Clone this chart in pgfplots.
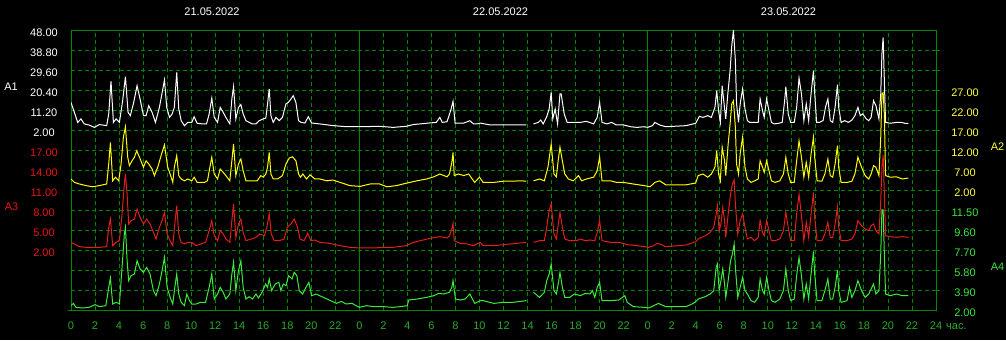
\documentclass[border=0pt]{standalone}
\usepackage{pgfplots}
\pgfplotsset{compat=1.18}
\usepackage{pgfplotstable}
\usepackage{fontspec}
\setmainfont{Liberation Sans}
\definecolor{gridc}{RGB}{0,135,0}
\definecolor{tickc}{RGB}{40,170,40}
\definecolor{serW}{RGB}{255,255,255}
\definecolor{serY}{RGB}{255,255,0}
\definecolor{serR}{RGB}{225,30,30}
\definecolor{serG}{RGB}{60,235,60}
\definecolor{labY}{RGB}{255,255,60}
\definecolor{labR}{RGB}{230,20,20}
\definecolor{labG}{RGB}{60,230,60}

% A1 (white, left scale 2..48)
\pgfplotstableread{
h v
0 14.7
0.28 10.1
0.56 5.5
0.83 7.1
1.1 4.8
1.5 4.3
1.94 3.2
2.36 4.5
2.97 4.0
3.14 9.4
3.33 24.4
3.53 5.5
3.75 7.1
4.03 5.5
4.3 15.5
4.53 26.5
4.75 10.1
4.94 8.6
5.22 14.7
5.5 22.4
5.75 16.3
6.03 8.6
6.25 8.6
6.47 13.2
6.75 10.1
7.03 5.5
7.36 12.4
7.78 25.0
7.97 12.4
8.2 7.8
8.42 9.4
8.6 12.4
8.8 28.5
8.97 11.7
9.17 6.3
9.44 4.0
9.72 5.5
10.05 5.5
10.25 8.1
10.5 5.1
10.94 4.8
11.28 4.8
11.5 9.4
11.72 16.7
11.92 7.8
12.2 5.5
12.42 12.4
12.67 10.1
12.89 7.8
13.22 4.8
13.39 16.3
13.53 21.9
13.72 7.1
13.94 12.4
14.14 13.7
14.33 9.4
14.56 6.3
14.83 5.5
15.1 4.8
15.4 4.8
15.67 6.3
16.0 7.1
16.22 7.5
16.36 14.0
16.5 20.9
16.64 8.6
16.83 5.5
17.06 7.8
17.33 6.3
17.6 7.8
17.89 14.0
18.08 14.7
18.25 15.8
18.5 17.8
18.72 14.7
18.94 6.3
19.14 5.5
19.47 5.2
19.75 8.1
20.03 5.2
20.7 4.8
21.83 4.0
22.94 3.5
24.06 3.5
25.7 3.7
26.8 3.2
27.9 3.7
28.5 4.5
29.6 5.1
30.4 5.5
30.7 7.8
30.9 5.5
31.3 5.8
31.6 10.9
31.8 15.2
31.97 5.1
32.7 5.2
33.2 6.3
33.5 4.8
33.8 4.8
34.06 5.2
34.9 4.3
36 4.3
37.1 4.3
37.9 4.3
38.2 nan
38.5 4.8
38.9 5.5
39.1 6.6
39.3 4.8
39.6 8.1
39.8 11.7
39.97 19.3
40.1 7.1
40.3 11.7
40.5 4.8
40.7 18.6
40.8 18.6
41.05 9.4
41.3 5.5
41.8 5.5
42.4 5.5
42.9 6.0
43.5 4.8
43.8 7.8
44.0 14.7
44.2 5.5
44.6 4.8
45.0 5.5
45.4 4.3
46.0 4.3
46.6 3.5
47.1 3.2
47.7 3.5
48.0 3.2
48.4 4.0
48.6 5.5
49.0 4.3
49.5 3.5
51.2 4.0
52.0 5.1
52.3 8.3
52.6 7.8
53.0 8.6
53.3 7.8
53.6 12.4
53.75 20.1
53.9 10.9
54.05 5.5
54.2 22.4
54.36 14.0
54.5 7.1
54.67 18.6
54.86 29.3
55.0 40.8
55.14 48.0
55.3 33.9
55.4 14.0
55.56 5.5
55.7 14.0
55.9 20.9
56.1 11.7
56.3 6.3
56.5 5.5
56.8 5.5
57.2 5.5
57.36 16.3
57.56 10.9
57.7 7.8
57.9 16.3
58.1 10.9
58.3 5.5
58.55 4.8
58.9 5.1
59.2 5.5
59.4 15.5
59.5 21.9
59.7 9.4
59.9 5.5
60.2 5.5
60.4 12.4
60.6 25.9
60.8 18.6
61.0 6.3
61.2 14.0
61.4 6.3
61.6 18.6
61.8 29.3
61.9 19.3
62.06 5.5
62.3 5.5
62.6 6.3
62.8 12.4
63.0 16.3
63.2 6.3
63.4 5.5
63.6 12.4
63.8 22.9
63.9 12.4
64.1 5.5
64.4 6.3
64.7 5.5
65.0 6.6
65.25 8.6
65.5 12.4
65.7 8.6
65.9 9.4
66.2 7.1
66.4 6.3
66.6 7.8
66.8 15.5
67.0 13.2
67.25 7.1
67.4 18.6
67.5 37.0
67.6 44.6
67.7 24.7
67.8 5.5
68.2 5.1
68.7 5.5
69.1 5.5
69.4 5.1
69.7 5.1
}\Aone

% A2 (yellow, right scale 2..27)
\pgfplotstableread{
h v
0 4.75
0.28 3.9
0.7 3.5
1.25 3.1
1.8 2.8
2.36 3.1
2.97 3.5
3.14 8.5
3.28 13.9
3.47 4.3
3.7 5.2
3.97 4.3
4.17 8.5
4.36 15.2
4.53 17.8
4.72 10.2
4.86 8.1
5.08 9.3
5.28 10.2
5.47 11.8
5.7 10.2
6.03 7.7
6.25 9.3
6.47 8.5
6.75 7.25
6.94 5.6
7.22 7.7
7.5 10.6
7.78 13.3
8.05 7.7
8.25 6.0
8.47 3.9
8.6 7.7
8.8 10.6
8.97 5.6
9.17 4.75
9.44 4.3
9.72 4.75
10.05 4.3
10.25 5.2
10.5 3.9
11.1 3.9
11.36 4.3
11.56 7.7
11.72 10.2
11.92 6.0
12.2 4.75
12.42 7.25
12.67 6.4
12.89 5.6
13.22 4.3
13.39 9.3
13.53 13.5
13.72 5.6
13.94 8.5
14.14 9.75
14.33 6.8
14.56 4.3
15.1 4.3
15.5 4.3
15.8 5.6
16.0 5.2
16.22 6.0
16.36 7.7
16.5 11.4
16.64 6.0
16.83 4.75
17.2 4.75
17.6 5.6
17.89 8.5
18.17 10.0
18.44 10.3
18.72 9.3
18.94 6.0
19.1 5.2
19.3 6.0
19.6 4.75
19.9 5.8
20.3 4.75
20.7 4.75
21.3 4.3
21.8 4.5
22.4 3.9
23.2 3.1
24.06 2.9
24.9 3.5
25.7 3.5
26.3 2.8
27.1 3.1
27.9 3.7
28.8 4.3
29.6 4.75
30.2 5.3
30.7 6.0
31.3 5.3
31.5 6.0
31.7 8.9
31.8 11.4
31.9 5.6
32.25 6.0
32.7 5.6
33.1 6.0
33.6 3.9
34.0 5.2
34.3 3.9
35.2 3.9
36 4.2
36.8 4.2
37.4 4.3
37.9 4.2
38.2 nan
38.5 4.3
39.0 4.75
39.4 4.3
39.7 7.7
39.97 13.5
40.2 6.0
40.4 5.3
40.55 9.3
40.7 12.7
40.9 9.3
41.1 6.0
41.4 4.75
41.8 4.3
42.25 5.6
42.5 4.3
42.9 4.75
43.5 5.2
43.8 6.8
44.0 10.2
44.2 4.3
44.9 4.3
45.4 3.9
46.0 3.9
46.8 3.5
47.7 3.1
48.2 2.8
48.6 3.9
49.0 4.3
49.5 3.3
51.2 3.3
52.0 3.75
52.2 5.6
52.6 6.0
53.0 5.2
53.3 6.0
53.6 7.7
53.75 11.8
53.9 6.0
54.05 4.3
54.2 12.7
54.4 9.3
54.5 5.6
54.7 13.5
54.86 18.5
55.0 23.5
55.14 24.3
55.3 17.7
55.4 8.5
55.56 6.0
55.7 11.0
55.9 15.2
56.1 7.7
56.3 4.75
56.6 3.9
56.9 4.3
57.2 4.75
57.36 9.3
57.56 7.7
57.7 6.4
57.9 9.3
58.1 6.8
58.3 4.3
58.6 3.9
59.0 4.3
59.3 6.0
59.5 10.2
59.7 6.0
59.9 3.9
60.2 3.9
60.4 9.3
60.6 14.3
60.8 10.2
61.0 5.2
61.2 8.9
61.4 5.2
61.6 11.0
61.8 15.2
61.9 10.2
62.1 4.3
62.5 4.2
62.75 6.0
63.0 9.75
63.2 5.6
63.4 5.2
63.6 8.5
63.8 13.1
63.9 7.7
64.1 3.9
64.6 3.9
65.0 4.2
65.25 6.0
65.5 10.2
65.8 7.7
66.1 5.6
66.4 4.75
66.6 6.0
66.8 8.1
67.0 7.7
67.25 5.6
67.4 15.2
67.5 26.0
67.6 26.3
67.7 21.0
67.8 5.6
68.2 5.2
68.7 5.3
69.2 4.75
69.7 5.0
}\Atwo

% A3 (red, left scale 2..17)
\pgfplotstableread{
h v
0 3.15
0.28 2.9
0.7 2.5
1.25 2.4
1.8 2.4
2.36 2.4
2.97 2.5
3.14 5.4
3.28 6.65
3.47 2.65
3.75 3.15
4.03 3.4
4.25 7.4
4.44 11.9
4.53 13.4
4.67 10.4
4.8 5.9
5.0 6.4
5.28 6.65
5.5 8.15
5.75 6.9
6.03 5.9
6.3 6.65
6.58 5.9
6.86 4.65
7.08 3.65
7.36 5.4
7.58 6.4
7.78 7.65
8.0 4.4
8.25 3.4
8.47 2.65
8.64 5.9
8.8 8.65
8.97 4.4
9.17 3.15
9.44 2.9
9.72 3.15
10.05 3.15
10.4 2.65
10.8 2.9
11.2 3.15
11.5 4.9
11.72 6.4
11.92 4.15
12.2 3.4
12.42 4.9
12.67 4.4
12.89 3.65
13.22 3.15
13.39 6.4
13.53 8.9
13.72 3.9
13.94 5.9
14.14 6.65
14.33 4.65
14.56 3.4
15.0 3.65
15.4 3.9
15.72 4.4
16.1 4.15
16.3 5.4
16.5 7.4
16.67 4.4
16.92 3.4
17.33 3.4
17.75 3.65
18.0 5.4
18.3 5.9
18.58 6.65
18.86 5.4
19.06 3.65
19.4 3.4
19.7 4.5
19.97 3.4
20.3 3.5
20.7 3.15
21.5 3.0
22.4 2.65
23.2 2.4
24.06 2.3
25.2 2.3
26 2.4
26.8 2.4
27.9 2.65
28.5 3.15
29.3 3.5
30.0 3.8
30.7 4.0
31.3 3.8
31.5 4.15
31.7 5.15
31.8 6.0
31.9 3.4
32.4 3.0
33.0 2.9
33.5 2.65
34.06 3.15
34.3 2.65
35.2 2.65
36 2.8
37.1 3.0
37.9 3.15
38.2 nan
38.5 3.15
39.0 3.4
39.4 3.4
39.6 5.4
39.8 7.9
39.97 8.9
40.2 4.4
40.4 3.65
40.6 6.4
40.7 7.65
40.9 5.4
41.1 3.65
41.5 3.4
42.1 3.4
42.4 3.65
42.8 3.4
43.2 3.5
43.6 3.4
43.8 4.65
44.0 6.4
44.2 3.4
44.9 3.15
45.6 3.15
46.3 2.8
47.1 2.65
47.7 2.5
48.1 2.4
48.5 2.65
48.8 3.0
49.0 2.9
49.5 2.5
51.2 2.75
52.0 3.25
52.2 3.65
52.8 4.15
53.2 4.65
53.5 5.4
53.7 7.4
53.8 8.65
53.95 4.9
54.1 5.9
54.25 8.4
54.4 6.4
54.5 3.9
54.7 7.4
54.9 10.4
55.05 11.9
55.2 12.5
55.3 8.9
55.5 4.4
55.7 6.4
55.9 7.4
56.1 5.4
56.3 3.65
56.6 3.9
56.9 3.4
57.2 3.9
57.36 6.4
57.56 4.65
57.7 4.15
57.9 6.4
58.1 4.9
58.3 3.4
58.6 3.4
59.0 3.65
59.3 4.9
59.5 7.65
59.7 5.4
59.9 3.4
60.2 3.4
60.4 7.4
60.6 10.4
60.8 7.15
61.0 3.4
61.2 6.15
61.4 3.9
61.6 7.4
61.8 10.65
61.9 6.9
62.1 3.4
62.5 3.4
62.75 4.4
63.0 6.15
63.2 3.9
63.4 3.9
63.6 5.9
63.8 8.4
63.9 5.4
64.1 3.4
64.6 3.4
65.0 3.65
65.25 4.4
65.5 6.4
65.8 5.65
66.1 5.15
66.4 4.9
66.6 5.65
66.8 5.9
67.0 4.9
67.25 4.4
67.4 9.4
67.5 14.4
67.6 16.25
67.7 10.4
67.8 4.15
68.2 4.0
68.7 3.9
69.2 4.0
69.7 3.9
}\Athree

% A4 (green, right scale 2..11.5)
\pgfplotstableread{
h v
0 2.41
0.2 2.63
0.42 2.25
0.97 2.19
1.5 2.25
2.0 2.51
2.36 2.32
2.9 2.41
3.14 4.15
3.28 5.04
3.47 2.57
3.75 2.73
4.03 2.57
4.25 6.05
4.44 9.22
4.53 9.85
4.67 6.69
4.8 4.79
5.0 5.26
5.28 5.42
5.5 6.69
5.75 5.9
6.03 5.58
6.3 6.05
6.58 5.42
6.86 3.84
7.08 3.36
7.36 4.47
7.58 5.74
7.78 7.0
8.0 4.15
8.25 3.2
8.47 2.57
8.64 4.15
8.8 5.42
8.97 3.52
9.17 2.73
9.44 2.41
9.64 3.52
9.86 2.89
10.05 2.57
10.4 2.57
10.8 2.73
11.2 2.73
11.5 4.15
11.72 5.42
11.92 3.04
12.2 3.52
12.42 4.15
12.67 3.68
12.89 3.04
13.22 3.52
13.39 5.42
13.53 6.53
13.72 3.84
13.94 5.74
14.14 6.69
14.33 4.15
14.56 3.04
14.83 3.27
15.1 3.04
15.4 3.52
15.6 3.14
15.9 3.68
16.2 4.47
16.36 4.15
16.5 4.95
16.7 3.84
17.0 4.47
17.3 4.63
17.47 3.84
17.67 4.47
17.9 4.31
18.1 5.26
18.4 4.95
18.58 5.58
18.8 5.26
19.0 3.84
19.28 3.52
19.56 4.15
19.8 4.63
20.03 3.36
20.4 3.52
21.0 3.2
21.6 2.89
22.1 2.63
22.5 2.82
22.9 2.57
23.4 2.63
24.0 2.25
24.6 2.41
25.2 2.32
26.0 2.32
26.8 2.25
27.4 2.32
28.0 2.41
28.1 2.95
28.8 3.04
29.6 3.2
30.2 3.36
30.6 3.58
31.0 3.52
31.5 3.68
31.7 4.15
31.8 4.79
32.0 3.04
32.4 2.95
32.8 3.04
33.2 3.52
33.6 2.63
34.06 2.89
34.3 2.89
35.2 2.63
36 2.73
36.8 2.73
37.4 2.82
37.9 2.89
38.2 nan
38.5 3.68
39.0 3.2
39.4 3.68
39.6 4.79
39.8 5.42
39.97 6.37
40.2 3.84
40.4 3.52
40.6 4.79
40.7 5.58
40.9 4.15
41.1 3.2
41.5 3.2
41.9 3.52
42.4 3.36
42.8 3.58
43.2 3.52
43.4 3.84
43.6 3.2
43.8 4.15
44.0 4.63
44.2 2.89
44.9 2.89
45.6 2.95
45.9 3.2
46.1 3.36
46.3 2.73
46.8 2.32
47.7 2.25
48.1 2.19
48.5 2.41
48.9 2.63
49.0 2.57
49.5 2.32
51.2 2.32
51.8 2.63
52.0 2.8
52.2 3.04
52.8 3.27
53.2 3.52
53.5 3.84
53.7 6.05
53.8 6.37
53.95 3.84
54.1 4.79
54.25 5.9
54.4 4.47
54.5 3.2
54.7 4.79
54.9 6.69
55.05 7.32
55.2 8.27
55.3 6.05
55.5 3.2
55.7 4.15
55.9 5.1
56.1 3.84
56.3 3.52
56.6 2.89
56.9 2.73
57.2 3.2
57.36 4.95
57.56 3.84
57.7 3.52
57.9 5.1
58.1 3.84
58.3 2.89
58.6 2.73
59.0 3.04
59.3 3.84
59.5 5.9
59.7 3.84
59.9 2.89
60.2 3.04
60.4 5.26
60.6 7.0
60.8 5.26
61.0 3.04
61.2 4.47
61.4 3.04
61.6 5.42
61.8 7.57
61.9 5.42
62.1 2.89
62.5 2.89
62.75 3.84
63.0 4.95
63.2 3.04
63.4 3.04
63.6 4.15
63.8 5.8
63.9 3.84
64.1 2.73
64.6 2.89
64.8 4.15
65.0 3.2
65.25 3.84
65.5 4.79
65.8 3.84
66.1 3.2
66.4 3.52
66.6 4.0
66.8 4.47
67.0 3.52
67.25 3.84
67.4 7.32
67.5 11.5
67.6 11.5
67.7 7.32
67.8 3.52
68.2 3.36
68.7 3.52
69.2 3.36
69.7 3.36
}\Afour

\newcommand{\lf}{\fontsize{11}{13}\selectfont}

\begin{document}
\begin{tikzpicture}
\useasboundingbox (0pt,0pt) rectangle (1006pt,340pt);
\fill[black] (0pt,0pt) rectangle (1006pt,340pt);
% grid stubs beyond the right border
\foreach \k in {1,...,13}
  \draw[gridc, line width=0.9pt, dash pattern=on 4pt off 3pt] (936pt,{30pt+20pt*\k}) -- (942pt,{30pt+20pt*\k});
\draw[gridc, line width=0.9pt] (68pt,30pt) -- (71pt,30pt);
\begin{axis}[
  at={(71pt,30pt)}, anchor=south west,
  width=865pt, height=280pt, scale only axis,
  xmin=0, xmax=72, ymin=0, ymax=14,
  axis line style={draw=gridc, line width=0.9pt},
  xtick={0,2,...,72},
  xticklabels={0,2,4,6,8,10,12,14,16,18,20,22,0,2,4,6,8,10,12,14,16,18,20,22,0,2,4,6,8,10,12,14,16,18,20,22,24},
  ytick={0,1,...,14},
  yticklabels={},
  major tick length=0pt,
  xmajorgrids, ymajorgrids,
  grid style={draw=gridc, line width=0.9pt, dash pattern=on 4pt off 3pt},
  extra x ticks={24,48},
  extra x tick labels={},
  extra x tick style={grid style={draw=gridc, line width=0.9pt, solid}},
  xticklabel style={font=\lf, text=tickc, anchor=base, yshift=-19pt},
  unbounded coords=jump,
  clip=true,
]
\addplot[serW, line width=1pt] table[x=h, y expr={9+(\thisrow{v}-2)/9.2}] {\Aone};
\addplot[serY, line width=1pt] table[x=h, y expr={6+(\thisrow{v}-2)/5}] {\Atwo};
\addplot[serR, line width=1pt] table[x=h, y expr={3+(\thisrow{v}-2)/3}] {\Athree};
\addplot[serG, line width=1pt] table[x=h, y expr={(\thisrow{v}-2)/1.9}] {\Afour};
\end{axis}
% left scale labels
\foreach \k/\t in {14/48.00,13/38.80,12/29.60,11/20.40,10/11.20,9/2.00}
  \node[font=\lf, text=white, inner sep=0pt] at (44pt,{27pt+20pt*\k}) {\t};
\foreach \k/\t in {8/17.00,7/14.00,6/11.00,5/8.00,4/5.00,3/2.00}
  \node[font=\lf, text=labR, inner sep=0pt] at (44pt,{27pt+20pt*\k}) {\t};
% right scale labels
\foreach \k/\t in {11/27.00,10/22.00,9/17.00,8/12.00,7/7.00,6/2.00}
  \node[font=\lf, text=labY, inner sep=0pt] at (965pt,{27pt+20pt*\k}) {\t};
\foreach \k/\t in {5/11.50,4/9.60,3/7.70,2/5.80,1/3.90,0/2.00}
  \node[font=\lf, text=labG, inner sep=0pt] at (965pt,{27pt+20pt*\k}) {\t};
% series names
\node[font=\lf, text=white, inner sep=0pt] at (11pt,253pt) {A1};
\node[font=\lf, text=labR, inner sep=0pt] at (11.5pt,133pt) {A3};
\node[font=\lf, text=labY, inner sep=0pt] at (997.5pt,193pt) {A2};
\node[font=\lf, text=labG, inner sep=0pt] at (997.5pt,73pt) {A4};
% dates
\node[font=\lf, text=white, inner sep=0pt] at (212pt,328pt) {21.05.2022};
\node[font=\lf, text=white, inner sep=0pt] at (500.5pt,328pt) {22.05.2022};
\node[font=\lf, text=white, inner sep=0pt] at (788.5pt,328pt) {23.05.2022};
% unit
\node[font=\lf, text=tickc, inner sep=0pt, anchor=base west] at (946pt,11pt) {час.};
\end{tikzpicture}
\end{document}
